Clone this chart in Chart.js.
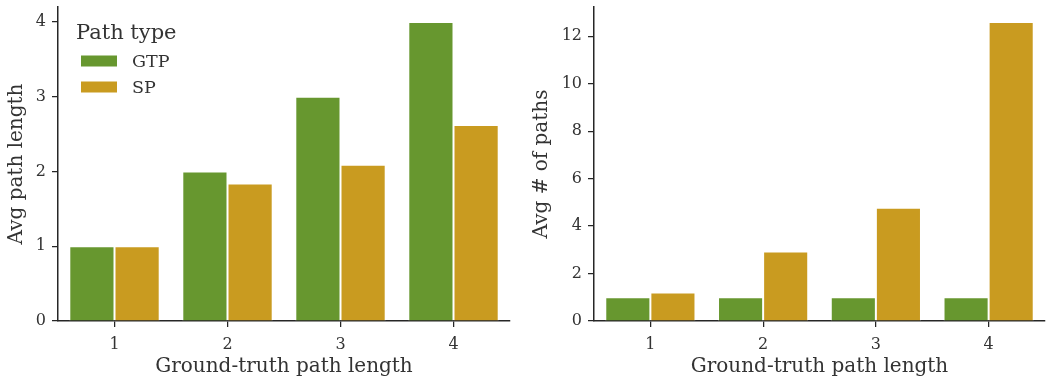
<!DOCTYPE html>
<html>
<head>
<meta charset="utf-8">
<script src="https://cdn.jsdelivr.net/npm/chart.js@4.4.1/dist/chart.umd.min.js"></script>
<style>
  html, body { margin: 0; padding: 0; background: #fff; }
  .box { position: absolute; top: 0; height: 379px; }
  #leftBox { left: 0; width: 520px; }
  #rightBox { left: 530px; width: 518px; }
</style>
</head>
<body>
<div class="box" id="leftBox"><canvas id="lenCanvas"></canvas></div>
<div class="box" id="rightBox"><canvas id="countCanvas"></canvas></div>
<script>
// data
const categories = ['1', '2', '3', '4'];
const seriesNames = ['GTP', 'SP'];
const avgLenGTP = [1, 2, 3, 4];
const avgLenSP = [1, 1.84, 2.09, 2.62];
const avgCountGTP = [1, 1, 1, 1];
const avgCountSP = [1.2, 2.93, 4.77, 12.6];

const GREEN = '#67972f';
const GOLD = '#c99b20';
const INK = '#262626';
const TEXT = '#333333';
const FONT = "'DejaVu Serif', serif";

Chart.defaults.font.family = FONT;
Chart.defaults.color = TEXT;
Chart.defaults.animation = false;

// legend drawn in the top-left corner of the first chart
const pathLegend = {
    id: 'pathLegend',
    afterDraw(chart) {
        const ctx = chart.ctx;
        ctx.save();
        ctx.fillStyle = TEXT;
        ctx.textBaseline = 'middle';
        ctx.textAlign = 'left';
        ctx.font = "21px " + FONT;
        ctx.fillText('Path type', 76, 34);
        ctx.font = "17.5px " + FONT;
        chart.data.datasets.forEach((ds, i) => {
            const y = 61 + i * 26;
            ctx.fillStyle = ds.backgroundColor;
            ctx.fillRect(81, y - 5.5, 36, 11);
            ctx.fillStyle = TEXT;
            ctx.fillText(ds.label, 132, y + 1);
        });
        ctx.restore();
    }
};

function makeChart(canvasId, gtp, sp, yMax, yStep, yTitle, yWidth, titlePad, padRight, withLegend) {
    const ctx = document.getElementById(canvasId).getContext('2d');
    return new Chart(ctx, {
        type: 'bar',
        data: {
            labels: categories,
            datasets: [{
                label: seriesNames[0],
                data: gtp,
                backgroundColor: GREEN,
                borderColor: 'rgba(255,255,255,0.85)',
                borderWidth: 1,
                borderSkipped: 'bottom'
            }, {
                label: seriesNames[1],
                data: sp,
                backgroundColor: GOLD,
                borderColor: 'rgba(255,255,255,0.85)',
                borderWidth: 1,
                borderSkipped: 'bottom'
            }]
        },
        options: {
            responsive: true,
            maintainAspectRatio: false,
            layout: { padding: { top: 7, right: padRight, bottom: 0, left: 0 } },
            datasets: { bar: { categoryPercentage: 0.8, barPercentage: 1.0 } },
            plugins: {
                legend: { display: false },
                tooltip: { enabled: false }
            },
            scales: {
                x: {
                    grid: { drawOnChartArea: false, offset: false, tickLength: 6, color: INK, lineWidth: 1.25 },
                    border: { display: true, color: INK, width: 1.5 },
                    ticks: { font: { size: 16 }, padding: 8 },
                    title: { display: true, text: 'Ground-truth path length', font: { size: 20 }, padding: { top: 0, bottom: 0 } },
                    afterFit(scale) {
                        scale.height = 58;
                        scale.paddingLeft = 0;
                        scale.paddingRight = 0;
                    }
                },
                y: {
                    min: 0,
                    max: yMax,
                    grid: { drawOnChartArea: false, tickLength: 6, color: INK, lineWidth: 1.25 },
                    border: { display: true, color: INK, width: 1.5 },
                    ticks: { stepSize: yStep, includeBounds: false, font: { size: 16 }, padding: 6 },
                    title: { display: true, text: yTitle, font: { size: 20 }, padding: { top: titlePad, bottom: 0 } },
                    afterFit(scale) {
                        scale.width = yWidth;
                        scale.paddingTop = 0;
                        scale.paddingBottom = 0;
                    }
                }
            }
        },
        plugins: withLegend ? [pathLegend] : []
    });
}

makeChart('lenCanvas', avgLenGTP, avgLenSP, 4.2, 1, 'Avg path length', 58, 5, 10, true);
makeChart('countCanvas', avgCountGTP, avgCountSP, 13.23, 2, 'Avg # of paths', 64, 0, 3, false);
</script>
</body>
</html>
